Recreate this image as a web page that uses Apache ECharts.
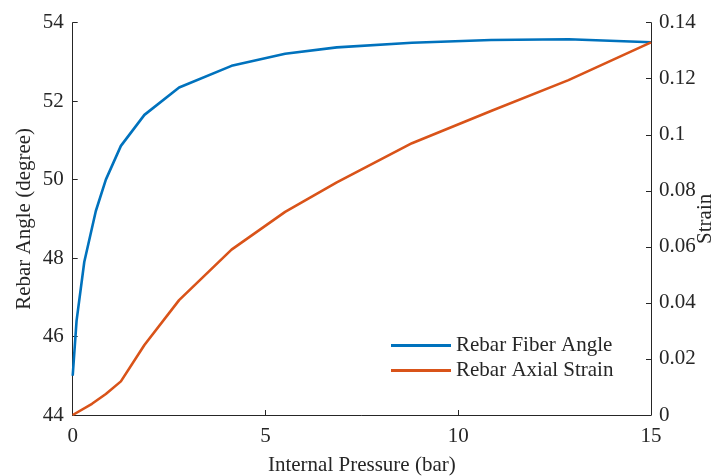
<!DOCTYPE html>
<html>
<head>
<meta charset="utf-8">
<script src="https://cdn.jsdelivr.net/npm/echarts@6/dist/echarts.min.js"></script>
<style>html,body{margin:0;padding:0;background:#fff}#c{width:721px;height:476px}</style>
</head>
<body>
<div id="c"></div>
<script>
const anglePressure = [0, 0.1, 0.3, 0.6, 0.86, 1.25, 1.86, 2.76, 4.12, 5.51, 6.85, 8.8, 10.85, 12.86, 15];
const angleValues = [45.0, 46.4, 47.9, 49.2, 50.0, 50.86, 51.65, 52.35, 52.9, 53.21, 53.37, 53.49, 53.56, 53.58, 53.50];
const strainPressure = [0, 0.5, 0.86, 1.25, 1.86, 2.76, 4.12, 5.51, 6.85, 8.8, 10.85, 12.86, 15];
const strainValues = [0, 0.004, 0.0075, 0.012, 0.025, 0.041, 0.059, 0.0725, 0.083, 0.097, 0.1085, 0.1195, 0.133];
const seriesNames = ['Rebar Fiber Angle', 'Rebar Axial Strain'];
const xTitle = 'Internal Pressure (bar)';
const yLeftTitle = 'Rebar Angle (degree)';
const yRightTitle = 'Strain';

const font = 'Liberation Serif';
const txt = '#262626';
const fs = 21;
const chart = echarts.init(document.getElementById('c'));
const axisCommon = {
  axisLine: {show: true, lineStyle: {color: txt, width: 1}},
  axisTick: {show: true, inside: true, length: 5, lineStyle: {color: txt}},
  splitLine: {show: false},
  axisLabel: {color: txt, fontFamily: font, fontSize: fs},
  nameTextStyle: {color: txt, fontFamily: font, fontSize: fs},
  nameMoveOverlap: false
};
chart.setOption({
  animation: false,
  grid: {left: 72.7, right: 70, top: 22.7, bottom: 61, containLabel: false, outerBoundsMode: 'none'},
  legend: {
    orient: 'vertical', left: 386, top: 330, itemWidth: 60, itemHeight: 3, itemGap: 4,
    icon: 'rect',
    textStyle: {color: txt, fontFamily: font, fontSize: fs},
    data: seriesNames
  },
  xAxis: Object.assign({}, axisCommon, {
    type: 'value', min: 0, max: 15, interval: 5,
    name: xTitle, nameLocation: 'middle', nameGap: 40,
    axisLabel: Object.assign({}, axisCommon.axisLabel, {margin: 11})
  }),
  yAxis: [
    Object.assign({}, axisCommon, {
      type: 'value', min: 44, max: 54, interval: 2, position: 'left',
      name: yLeftTitle, nameLocation: 'middle', nameGap: 38,
      axisLabel: Object.assign({}, axisCommon.axisLabel, {margin: 9})
    }),
    Object.assign({}, axisCommon, {
      type: 'value', min: 0, max: 0.14, interval: 0.02, position: 'right',
      name: yRightTitle, nameLocation: 'middle', nameGap: 44, nameRotate: 90,
      axisLabel: Object.assign({}, axisCommon.axisLabel, {margin: 8,
        formatter: v => String(Math.round(v * 100) / 100)})
    })
  ],
  series: [
    {name: seriesNames[0], type: 'line', yAxisIndex: 0, showSymbol: false, symbol: 'none',
     lineStyle: {color: '#0072BD', width: 2.6}, itemStyle: {color: '#0072BD'},
     data: anglePressure.map((x, i) => [x, angleValues[i]])},
    {name: seriesNames[1], type: 'line', yAxisIndex: 1, showSymbol: false, symbol: 'none',
     lineStyle: {color: '#D95319', width: 2.6}, itemStyle: {color: '#D95319'},
     data: strainPressure.map((x, i) => [x, strainValues[i]])}
  ]
});
</script>
</body>
</html>
